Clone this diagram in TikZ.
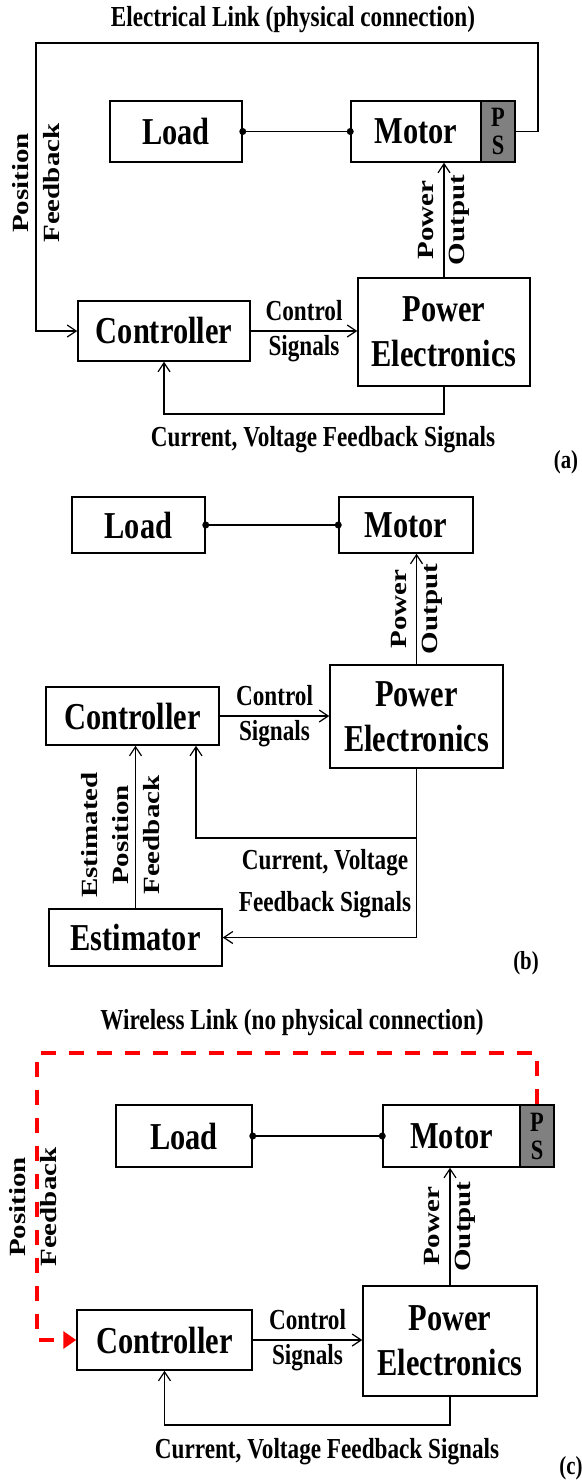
\documentclass[tikz,border=0pt]{standalone}
\usepackage{fontspec}
\setmainfont{Liberation Serif}[FakeStretch=0.8]
\newfontfamily\sidefont{Liberation Serif}[FakeStretch=1.25]
\usepackage{tikz}
\usetikzlibrary{arrows.meta,calc}

\begin{document}
\begin{tikzpicture}[x=0.5pt, y=-0.5pt,
  block/.style={rectangle, draw, line width=0.75pt, align=center, inner sep=0pt, font=\fontsize{19}{22.5}\selectfont\bfseries},
  sensor/.style={rectangle, draw, line width=0.75pt, fill=black!50, align=center, inner sep=0pt, minimum width=17pt, font=\fontsize{14}{14}\selectfont\bfseries},
  lbl/.style={align=center, inner sep=0pt, font=\fontsize{14.5}{17.5}\selectfont\bfseries},
  tag/.style={inner sep=0pt, font=\fontsize{13}{15}\selectfont\bfseries},
  vlbl/.style={rotate=90, align=center, inner sep=0pt, font=\sidefont\fontsize{11.6}{15.5}\selectfont\bfseries},
  line/.style={draw, line width=0.6pt, -{Straight Barb[length=4.5pt,width=6pt]}},
  wire/.style={draw, line width=0.6pt},
  joint/.style={circle, fill, inner sep=0pt, minimum size=3.5pt},
  wireless/.style={draw=red, line width=2.2pt, dash pattern=on 7.5pt off 6.5pt, -{Triangle[length=6.5pt,width=8.5pt]}}]
  \useasboundingbox (0,0) rectangle (582,1482);

  % (a) electrical link
  \node [lbl] (titleA) at (293,20) {Electrical Link (physical connection)};
  \node [block, minimum width=66pt, minimum height=30.5pt] (loadA) at (176,131.5) {Load};
  \node [block, minimum width=65pt, minimum height=30.5pt] (motorA) at (416,131.5) {Motor};
  \node [sensor, minimum height=30.5pt] (psA) at (498,131.5) {P\\S};
  \node [block, minimum width=86pt, minimum height=30pt] (ctrlA) at (164,331) {Controller};
  \node [block, minimum width=86pt, minimum height=54pt] (peA) at (444,332) {Power\\Electronics};
  \path [wire] (loadA.east) -- (motorA.west);
  \node [joint] (jA1) at (loadA.east) {};
  \node [joint] (jA2) at (motorA.west) {};
  \path [line] (peA.north) -- node [vlbl] (poA) {Power\\Output} (peA.north |- motorA.south);
  \path [line] (ctrlA.east) -- node [lbl] (csA) {Control\\Signals} (ctrlA.east -| peA.west);
  \coordinate (fbA) at (164,414);
  \path [line] (peA.south) |- (fbA) -- (ctrlA.south);
  \node [lbl] (cvA) at (323,440) {Current, Voltage Feedback Signals};
  \coordinate (rtA) at (538,43);
  \coordinate (topA) at (36,43);
  \path [line] (psA.east) -| (rtA) -- (topA) |- (ctrlA.west);
  \node [vlbl] (posA) at (36,183) {Position\\Feedback};
  \node [tag] (tagA) at (566,462) {(a)};

  % (b) estimator
  \node [block, minimum width=66.5pt, minimum height=28pt] (loadB) at (138.5,525) {Load};
  \node [block, minimum width=67pt, minimum height=28pt] (motorB) at (406,525) {Motor};
  \node [block, minimum width=86.5pt, minimum height=51.5pt] (peB) at (416.5,716.5) {Power\\Electronics};
  \node [block, minimum width=86.5pt, minimum height=29pt] (ctrlB) at (132.5,716) {Controller};
  \node [block, minimum width=86.5pt, minimum height=28.5pt] (estB) at (135.5,937.5) {Estimator};
  \path [wire] (loadB.east) -- (motorB.west);
  \node [joint] (jB1) at (loadB.east) {};
  \node [joint] (jB2) at (motorB.west) {};
  \path [line] (peB.north) -- node [vlbl] (poB) {Power\\Output} (peB.north |- motorB.south);
  \path [line] (ctrlB.east) -- node [lbl] (csB) {Control\\Signals} (ctrlB.east -| peB.west);
  \path [line] (estB.north) -- (estB.north |- ctrlB.south);
  \node [vlbl] (epfB) at (120.5,835) {Estimated\\Position\\Feedback};
  \path [line] (peB.south) |- (estB.east);
  \coordinate (brB) at (416.5,838);
  \coordinate (fbB) at (196,838);
  \path [line] (brB) -- (fbB) -- (fbB |- ctrlB.south);
  \node [lbl, font=\fontsize{14.5}{21}\selectfont\bfseries] (cvB) at (325,884) {Current, Voltage\\Feedback Signals};
  \node [tag] (tagB) at (526,963) {(b)};

  % (c) wireless link
  \node [lbl] (titleC) at (292,1023) {Wireless Link (no physical connection)};
  \node [block, minimum width=68pt, minimum height=31pt] (loadC) at (184,1136) {Load};
  \node [block, minimum width=68.5pt, minimum height=31pt] (motorC) at (451.5,1136) {Motor};
  \node [sensor, minimum height=31pt] (psC) at (537,1136) {P\\S};
  \node [block, minimum width=87.5pt, minimum height=30pt] (ctrlC) at (164.5,1340) {Controller};
  \node [block, minimum width=87pt, minimum height=55pt] (peC) at (450,1341) {Power\\Electronics};
  \path [wire] (loadC.east) -- (motorC.west);
  \node [joint] (jC1) at (loadC.east) {};
  \node [joint] (jC2) at (motorC.west) {};
  \path [line] (peC.north) -- node [vlbl] (poC) {Power\\Output} (peC.north |- motorC.south);
  \path [line] (ctrlC.east) -- node [lbl] (csC) {Control\\Signals} (ctrlC.east -| peC.west);
  \coordinate (fbC) at (164.5,1425);
  \path [line] (peC.south) |- (fbC) -- (ctrlC.south);
  \node [lbl] (cvC) at (327,1452) {Current, Voltage Feedback Signals};
  \coordinate (topC) at (37,1053);
  \path [wireless] (psC.north) |- (topC) |- (ctrlC.west);
  \node [vlbl] (posC) at (33.5,1207) {Position\\Feedback};
  \node [tag] (tagC) at (571,1468) {(c)};
\end{tikzpicture}
\end{document}
